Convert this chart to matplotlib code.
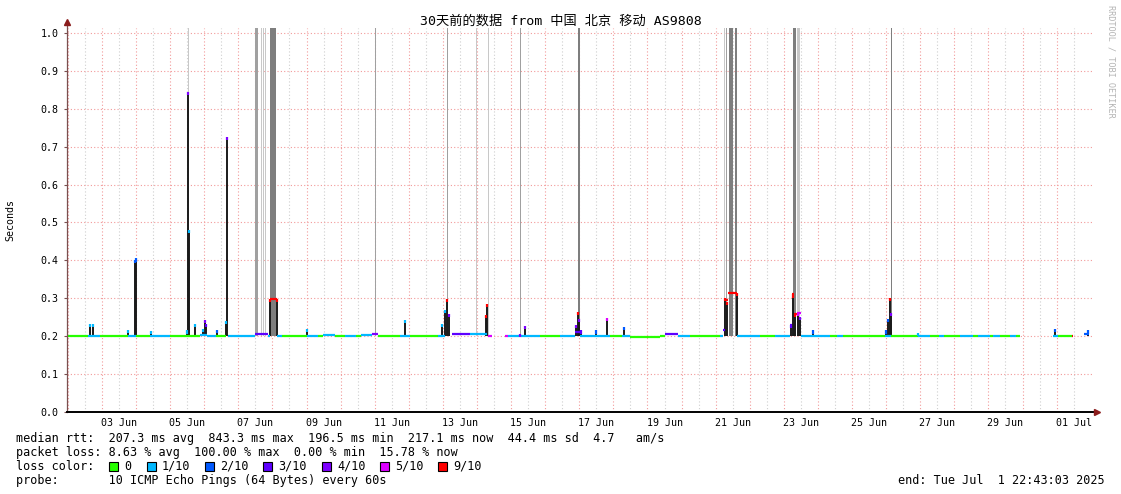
import matplotlib
matplotlib.use("Agg")
import matplotlib.pyplot as plt
import matplotlib.dates as mdates
from matplotlib.patches import Rectangle
from datetime import datetime, timedelta

# 30 day window ending at the last update
END_TIME = datetime(2025, 7, 1, 22, 43, 3)
START_TIME = END_TIME - timedelta(days=30)
BASE_RTT = 0.200

loss_labels = ["0", "1/10", "2/10", "3/10", "4/10", "5/10", "9/10"]
loss_colors = ["#26ff00", "#00b8ff", "#0059ff", "#5e00ff", "#7e00ff", "#dd00ff", "#ff0000"]

# median rtt, as steps: start day, end day (days after START_TIME), seconds, loss class
med_start = [0.03, 0.65, 1.00, 1.82, 2.05, 2.46, 3.05, 3.93, 4.13, 4.40,
             4.75, 5.54, 5.92, 5.98, 6.19, 6.33, 7.07, 7.40, 7.55, 7.89,
             8.18, 8.50, 8.65, 8.97, 9.15, 9.79, 10.09, 10.91, 11.32, 11.85,
             12.38, 12.87, 12.96, 13.90, 14.49, 14.93, 15.07, 15.95, 16.30, 16.54,
             17.42, 17.57, 17.95, 18.30, 19.18, 19.27, 19.33, 19.41, 19.68, 20.35,
             20.79, 21.23, 21.29, 21.35, 21.44, 21.55, 22.40, 22.60, 22.80, 24.02,
             24.19, 24.99, 25.34, 25.60, 25.75, 26.22, 26.60, 26.75, 27.10, 27.20,
             27.39, 27.70, 27.85, 28.94, 29.09, 29.50, 29.85]
med_end = [0.65, 1.00, 1.82, 2.05, 2.46, 3.05, 3.93, 4.13, 4.40, 4.69,
           5.54, 5.92, 5.98, 6.19, 6.33, 7.07, 7.40, 7.55, 7.89, 8.18,
           8.50, 8.65, 8.97, 9.15, 9.79, 10.09, 10.91, 11.11, 11.85, 12.35,
           12.49, 12.96, 13.90, 14.49, 14.93, 15.07, 15.95, 16.30, 16.54, 17.42,
           17.57, 17.95, 18.30, 19.18, 19.27, 19.33, 19.41, 19.68, 20.35, 20.79,
           21.23, 21.29, 21.35, 21.44, 21.55, 22.40, 22.60, 22.80, 24.02, 24.19,
           24.99, 25.34, 25.60, 25.75, 26.22, 26.60, 26.75, 27.10, 27.20, 27.39,
           27.70, 27.85, 27.98, 29.09, 29.50, 29.53, 30.00]
med_value = [0.200, 0.200, 0.200, 0.200, 0.200, 0.200, 0.200, 0.202, 0.200, 0.200,
             0.200, 0.207, 0.200, 0.298, 0.200, 0.200, 0.200, 0.200, 0.202, 0.200,
             0.200, 0.200, 0.202, 0.205, 0.200, 0.200, 0.200, 0.200, 0.207, 0.205,
             0.200, 0.200, 0.200, 0.200, 0.200, 0.210, 0.200, 0.200, 0.200, 0.197,
             0.200, 0.206, 0.200, 0.200, 0.200, 0.215, 0.295, 0.314, 0.200, 0.200,
             0.200, 0.230, 0.310, 0.258, 0.262, 0.200, 0.200, 0.200, 0.200, 0.200,
             0.200, 0.200, 0.200, 0.200, 0.200, 0.200, 0.200, 0.200, 0.200, 0.200,
             0.200, 0.200, 0.200, 0.200, 0.200, 0.200, 0.205]
med_loss = [0, 1, 0, 1, 0, 1, 0, 1, 1, 0,
            1, 3, 1, 6, 1, 0, 1, 0, 1, 0,
            1, 0, 1, 4, 0, 1, 0, 1, 3, 1,
            5, 5, 1, 0, 1, 3, 1, 0, 1, 0,
            0, 3, 1, 0, 1, 3, 6, 6, 1, 0,
            1, 3, 6, 6, 5, 1, 0, 1, 0, 1,
            0, 1, 0, 1, 0, 1, 0, 1, 0, 1,
            0, 1, 0, 1, 0, 6, 2]

# short jumps of the median: day, peak seconds, loss class at the peak
spike_day = [0.70, 0.79, 1.82, 2.01, 2.05, 2.49, 3.55, 3.58, 3.62, 3.78, 4.02, 4.08, 4.11, 4.43,
             4.69, 4.72, 5.98, 6.19, 7.07, 9.93, 11.03, 11.11, 11.17, 11.23, 12.32, 12.36, 13.31,
             13.45, 14.96, 15.01, 15.04, 15.10, 15.54, 15.88, 16.36, 19.33, 19.38, 19.68, 21.25,
             21.31, 21.38, 21.47, 21.52, 21.92, 24.05, 24.11, 24.17, 24.19, 24.99, 29.00, 29.97]
spike_top = [0.232, 0.232, 0.216, 0.400, 0.405, 0.214, 0.215, 0.843, 0.480, 0.232, 0.220, 0.242,
             0.232, 0.216, 0.240, 0.725, 0.298, 0.298, 0.220, 0.243, 0.232, 0.270, 0.298, 0.258,
             0.255, 0.286, 0.205, 0.228, 0.230, 0.264, 0.245, 0.215, 0.215, 0.247, 0.225, 0.300,
             0.290, 0.314, 0.230, 0.310, 0.258, 0.262, 0.250, 0.215, 0.215, 0.245, 0.300, 0.262,
             0.208, 0.218, 0.215]
spike_loss = [1, 1, 1, 2, 2, 1, 1, 4, 1, 1, 1, 4, 3, 2, 1, 4, 6, 6, 1, 1, 1, 1, 6, 4, 6, 6, 4,
              4, 4, 6, 4, 3, 2, 5, 2, 6, 6, 6, 3, 6, 6, 5, 4, 2, 2, 2, 6, 4, 1, 2, 2]

# smoke columns running off the top of the scale: day, length in days, shade
smoke_day = [3.59, 5.54, 5.73, 5.79, 5.85, 5.99, 9.05, 11.17, 12.01, 12.38, 13.31, 15.03,
             19.30, 19.36, 19.44, 19.62, 21.32, 21.44, 24.19]
smoke_len = [0.03, 0.09, 0.03, 0.03, 0.03, 0.18, 0.045, 0.03, 0.045, 0.03, 0.03, 0.03,
             0.03, 0.03, 0.12, 0.045, 0.09, 0.10, 0.03]
smoke_shade = [0, 1, 0, 0, 0, 2, 1, 1, 0, 0, 1, 2, 0, 1, 2, 2, 2, 0, 2]
smoke_top = 1.5
shades = ["#c8c8c8", "#a0a0a0", "#7e7e7e"]

mono = ["DejaVu Sans Mono", "Noto Sans CJK SC"]
plt.rcParams["font.family"] = mono

W, H = 1121, 494
fig = plt.figure(figsize=(W / 100, H / 100), dpi=100)
ax = fig.add_axes([67 / W, (H - 412) / H, (1093 - 67) / W, (412 - 28) / H])

t0 = mdates.date2num(START_TIME)
ax.set_xlim(t0 + 0.029, t0 + 30.12)
ax.set_ylim(0, 1.013)

# grid: red at midnight / every 0.1 s, grey at noon
day0 = datetime(2025, 6, 2)
for k in range(30):
    ax.axvline(mdates.date2num(day0 + timedelta(days=k)), color="#f29a9a", lw=0.8,
               ls=(0, (1, 2)), zorder=0)
    ax.axvline(mdates.date2num(day0 + timedelta(days=k, hours=12)), color="#cfcfcf", lw=0.8,
               ls=(0, (1, 2)), zorder=0)
for k in range(1, 11):
    ax.axhline(k / 10, color="#f29a9a", lw=0.8, ls=(0, (1, 2)), zorder=0)

# smoke
for d, ln, s in zip(smoke_day, smoke_len, smoke_shade):
    ax.bar(t0 + d, smoke_top - BASE_RTT, width=ln, bottom=BASE_RTT, align="edge",
           color=shades[s], lw=0, zorder=1)

# spikes
for d, top, l in zip(spike_day, spike_top, spike_loss):
    ax.vlines(t0 + d, BASE_RTT, top, color="#1a1a1a", lw=1.4, zorder=2)

# median colored by loss
for a, b, v, l in zip(med_start, med_end, med_value, med_loss):
    ax.hlines(v, t0 + a, t0 + b, color=loss_colors[l], lw=1.6, zorder=3)

for d, top, l in zip(spike_day, spike_top, spike_loss):
    ax.vlines(t0 + d, top - 0.008, top, color=loss_colors[l], lw=1.6, zorder=4)

# axes look
for s in ["top", "right", "left", "bottom"]:
    ax.spines[s].set_visible(False)
ax.plot([0, 0], [0, 1.016], transform=ax.transAxes, color="#7a5050", lw=0.9,
        clip_on=False, zorder=5)
ax.plot([0, 1.004], [0, 0], transform=ax.transAxes, color="black", lw=1.4,
        clip_on=False, zorder=5)
ax.plot([0], [1.016], marker="^", ms=4.5, color="#8b1c1c", transform=ax.transAxes,
        clip_on=False, zorder=6)
ax.plot([1.004], [0], marker=">", ms=4.5, color="#8b1c1c", transform=ax.transAxes,
        clip_on=False, zorder=6)

label_days = [datetime(2025, 6, 3, 12) + timedelta(days=2 * k) for k in range(15)]
ax.set_xticks([mdates.date2num(d) for d in label_days])
ax.set_xticklabels([d.strftime("%d %b") for d in label_days])
ax.set_yticks([k / 10 for k in range(11)])
ax.set_yticklabels(["%.1f" % (k / 10) for k in range(11)])
ax.tick_params(axis="x", length=0, pad=4, labelsize=7.2)
ax.tick_params(axis="y", length=2, pad=4, labelsize=7.2, color="#7a5050")

fig.text(10 / W, 1 - 220 / H, "Seconds", rotation=90, ha="center", va="center", fontsize=7.2)
fig.text(0.5, 1 - 21 / H, "30天前的数据 from 中国 北京 移动 AS9808", ha="center",
         va="center", fontsize=9.5)
fig.text(1111 / W, 1 - 5 / H, "RRDTOOL / TOBI OETIKER", rotation=270, ha="center",
         va="top", fontsize=6.1, color="#b4b4b4")

# legend block
fs = 8.5
fig.text(16 / W, 1 - 438 / H,
         "median rtt:  207.3 ms avg  843.3 ms max  196.5 ms min  217.1 ms now  44.4 ms sd  4.7   am/s",
         va="center", fontsize=fs)
fig.text(16 / W, 1 - 452 / H,
         "packet loss: 8.63 % avg  100.00 % max  0.00 % min  15.78 % now",
         va="center", fontsize=fs)
fig.text(16 / W, 1 - 466 / H, "loss color:", va="center", fontsize=fs)
box_x = [109, 147, 205, 263, 322, 380, 438]
for bx, lab, col in zip(box_x, loss_labels, loss_colors):
    fig.patches.append(Rectangle((bx / W, 1 - 471 / H), 9 / W, 9 / H, transform=fig.transFigure,
                                 facecolor=col, edgecolor="black", lw=0.8))
    fig.text((bx + 15) / W, 1 - 466 / H, lab, va="center", fontsize=fs)
fig.text(16 / W, 1 - 480 / H, "probe:       10 ICMP Echo Pings (64 Bytes) every 60s",
         va="center", fontsize=fs)
fig.text(1105 / W, 1 - 480 / H, "end: Tue Jul  1 22:43:03 2025", ha="right", va="center",
         fontsize=fs)

fig.savefig("out.png", dpi=100, facecolor="white")
